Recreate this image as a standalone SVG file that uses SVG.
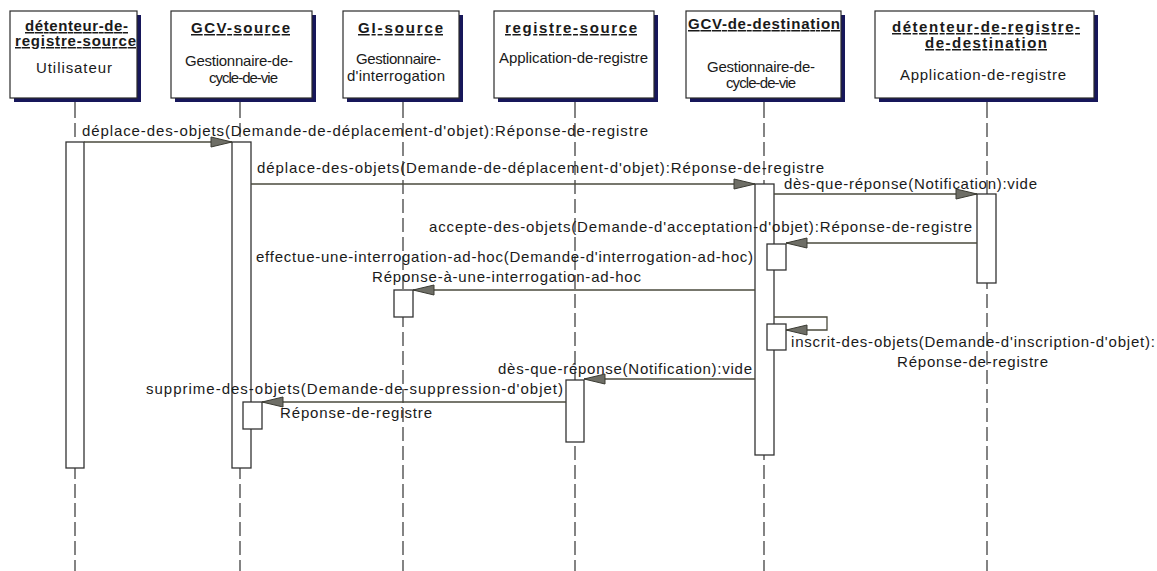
<svg xmlns="http://www.w3.org/2000/svg" width="1157" height="571" viewBox="0 0 1157 571">
  <style>
    .shadow { fill: #17175a; }
    .box { fill: #ffffff; stroke: #2b2b2b; stroke-width: 1.2; }
    text { font-family: "Liberation Sans", Arial, sans-serif; fill: #1a1a1a; }
    .title { font-size: 15px; font-weight: bold; text-decoration: underline; }
    .body { font-size: 15px; }
    .msg { font-size: 15px; }
    .life { stroke: #333333; stroke-width: 1.2; fill: none; }
    .dash { stroke-dasharray: 14 5; }
    .act { fill: #ffffff; stroke: #333333; stroke-width: 1.3; }
    .call { stroke: #4a4a3c; stroke-width: 1.3; fill: none; marker-end: url(#head); }
  </style>
  <defs>
    <marker id="head" markerUnits="userSpaceOnUse" viewBox="-23 -7 24 14" refX="0" refY="0" markerWidth="24" markerHeight="14" orient="auto">
      <path d="M0,0 L-21,-5 L-21,5 Z" fill="#6e6e66" stroke="#3c3c34" stroke-width="1"/>
    </marker>
  </defs>
  <rect width="1157" height="571" fill="#ffffff"/>

  <!-- lifelines -->
  <g id="lifelines">
    <path class="life" d="M75,98 V118 M240,98 V118 M403,98 V118 M575,98 V118 M764,98 V118 M987,98 V118"/>
    <path class="life dash" d="M75,123 V571 M240,123 V571 M403,123 V571 M575,123 V571 M764,123 V571 M987,123 V571"/>
  </g>

  <!-- participants -->
  <g id="detenteur-source">
    <rect class="shadow" x="14" y="15" width="127" height="87"/>
    <rect class="box" x="10" y="11" width="127" height="87"/>
    <text class="title" x="25" y="31" textLength="103" lengthAdjust="spacing">détenteur-de-</text>
    <text class="title" x="15" y="46" textLength="121" lengthAdjust="spacing">registre-source</text>
    <text class="body" x="36" y="73" textLength="76" lengthAdjust="spacing">Utilisateur</text>
  </g>
  <g id="gcv-source">
    <rect class="shadow" x="175" y="15" width="141" height="87"/>
    <rect class="box" x="171" y="11" width="141" height="87"/>
    <text class="title" x="191" y="33" textLength="99" lengthAdjust="spacing">GCV-source</text>
    <text class="body" x="185" y="66" textLength="108" lengthAdjust="spacing">Gestionnaire-de-</text>
    <text class="body" x="209" y="83" textLength="69" lengthAdjust="spacing">cycle-de-vie</text>
  </g>
  <g id="gi-source">
    <rect class="shadow" x="347" y="15" width="116" height="87"/>
    <rect class="box" x="343" y="11" width="116" height="87"/>
    <text class="title" x="358" y="33" textLength="85" lengthAdjust="spacing">GI-source</text>
    <text class="body" x="356" y="64" textLength="85" lengthAdjust="spacing">Gestionnaire-</text>
    <text class="body" x="347" y="81" textLength="98" lengthAdjust="spacing">d'interrogation</text>
  </g>
  <g id="registre-source">
    <rect class="shadow" x="498" y="15" width="160" height="87"/>
    <rect class="box" x="494" y="11" width="160" height="87"/>
    <text class="title" x="505" y="33" textLength="132" lengthAdjust="spacing">registre-source</text>
    <text class="body" x="499" y="63" textLength="149" lengthAdjust="spacing">Application-de-registre</text>
  </g>
  <g id="gcv-destination">
    <rect class="shadow" x="690" y="15" width="155" height="87"/>
    <rect class="box" x="686" y="11" width="155" height="87"/>
    <text class="title" x="688" y="29" textLength="152" lengthAdjust="spacing">GCV-de-destination</text>
    <text class="body" x="707" y="72" textLength="108" lengthAdjust="spacing">Gestionnaire-de-</text>
    <text class="body" x="726" y="88" textLength="70" lengthAdjust="spacing">cycle-de-vie</text>
  </g>
  <g id="detenteur-destination">
    <rect class="shadow" x="879" y="15" width="219" height="87"/>
    <rect class="box" x="875" y="11" width="219" height="87"/>
    <text class="title" x="892" y="32" textLength="188" lengthAdjust="spacing">détenteur-de-registre-</text>
    <text class="title" x="925" y="48" textLength="122" lengthAdjust="spacing">de-destination</text>
    <text class="body" x="900" y="80" textLength="166" lengthAdjust="spacing">Application-de-registre</text>
  </g>

  <!-- activation bars -->
  <g id="activations">
    <rect class="act" x="66" y="142" width="18" height="326"/>
    <rect class="act" x="232" y="142" width="19" height="326"/>
    <rect class="act" x="755" y="184" width="19" height="271"/>
    <rect class="act" x="977" y="194" width="19" height="89"/>
    <rect class="act" x="767" y="244" width="19" height="26"/>
    <rect class="act" x="394" y="290" width="19" height="27"/>
    <rect class="act" x="767" y="324" width="19" height="26"/>
    <rect class="act" x="566" y="380" width="18" height="62"/>
    <rect class="act" x="243" y="402" width="19" height="27"/>
  </g>

  <!-- messages -->
  <g id="connectors">
    <path class="call" d="M84,142 H232"/>
    <path class="call" d="M251,184 H755"/>
    <path class="call" d="M774,194 H977"/>
    <path class="call" d="M977,243 H786"/>
    <path class="call" d="M755,290 H413"/>
    <path class="call" d="M774,317 H827 V330 H786"/>
    <path class="call" d="M755,379 H584"/>
    <path class="call" d="M566,402 H262"/>
  </g>

  <g id="message-labels">
    <text class="msg" x="82" y="136" textLength="566" lengthAdjust="spacing">déplace-des-objets(Demande-de-déplacement-d'objet):Réponse-de-registre</text>
    <text class="msg" x="257" y="173" textLength="567" lengthAdjust="spacing">déplace-des-objets(Demande-de-déplacement-d'objet):Réponse-de-registre</text>
    <text class="msg" x="784" y="189" textLength="253" lengthAdjust="spacing">dès-que-réponse(Notification):vide</text>
    <text class="msg" x="429" y="232" textLength="543" lengthAdjust="spacing">accepte-des-objets(Demande-d'acceptation-d'objet):Réponse-de-registre</text>
    <text class="msg" x="256" y="262" textLength="497" lengthAdjust="spacing">effectue-une-interrogation-ad-hoc(Demande-d'interrogation-ad-hoc)</text>
    <text class="msg" x="372" y="282" textLength="269" lengthAdjust="spacing">Réponse-à-une-interrogation-ad-hoc</text>
    <text class="msg" x="791" y="347" textLength="364" lengthAdjust="spacing">inscrit-des-objets(Demande-d'inscription-d'objet):</text>
    <text class="msg" x="897" y="367" textLength="151" lengthAdjust="spacing">Réponse-de-registre</text>
    <text class="msg" x="498" y="374" textLength="254" lengthAdjust="spacing">dès-que-réponse(Notification):vide</text>
    <text class="msg" x="146" y="394" textLength="417" lengthAdjust="spacing">supprime-des-objets(Demande-de-suppression-d'objet)</text>
    <text class="msg" x="280" y="418" textLength="152" lengthAdjust="spacing">Réponse-de-registre</text>
  </g>
</svg>
